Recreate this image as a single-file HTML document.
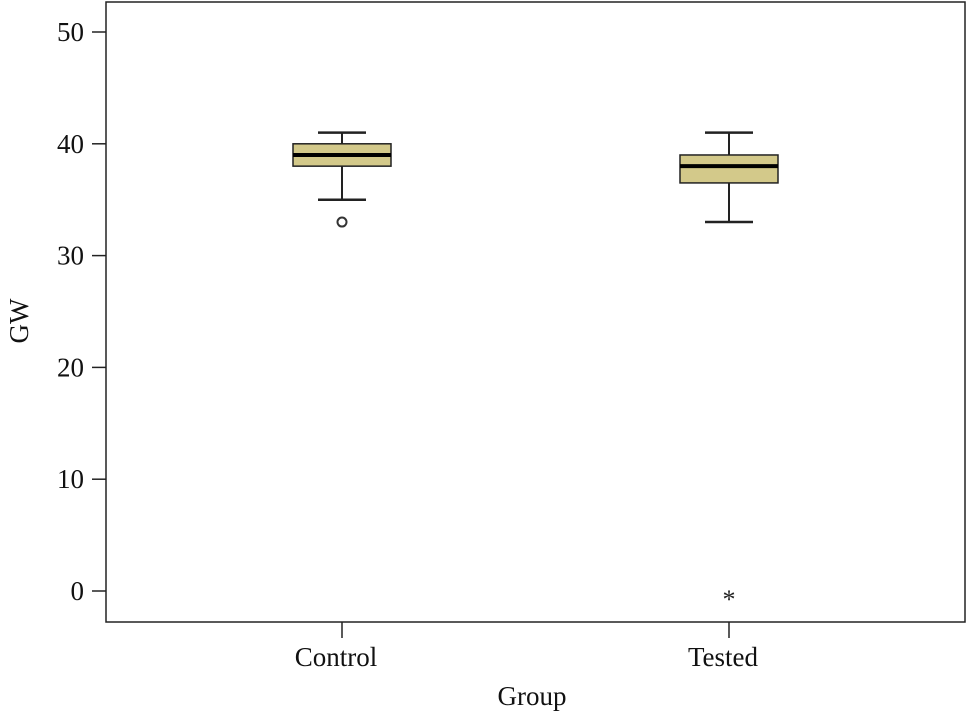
<!DOCTYPE html>
<html><head><meta charset="utf-8"><style>
body{margin:0;background:#fff;}
svg{display:block;font-family:"Liberation Serif",serif;}
</style></head><body>
<svg id="chart" width="968" height="714"></svg>
<script>
const categories=["Control","Tested"];
const mins=[35,33];
const q1s=[38,36.5];
const medians=[39,38];
const q3s=[40,39];
const maxs=[41,41];
const outliers=[[33],[]];
const extremes=[[],[0]];
const yTicks=[0,10,20,30,40,50];
const NS="http://www.w3.org/2000/svg";
const svg=document.getElementById('chart');
const L=106,R=965,T=2,B=622;
function y(v){return 591-v*11.18;}
function x(i){return [342,729][i];}
function add(tag,attrs,parent){const e=document.createElementNS(NS,tag);for(const k in attrs)e.setAttribute(k,attrs[k]);(parent||svg).appendChild(e);return e;}
const frame=add('rect',{x:L,y:T,width:R-L,height:B-T,fill:'none',stroke:'#222','stroke-width':1.5});


yTicks.forEach(v=>{
 const t=add('line',{x1:L-14,x2:L,y1:y(v),y2:y(v),stroke:'#222','stroke-width':1.5});
 
 
 const tx=add('text',{x:L-22,y:y(v)+9,'text-anchor':'end','font-size':27,fill:'#111'});
 tx.textContent=v;
 
 
});
categories.forEach((c,i)=>{
 const cx=x(i),hw=49,cw=24;
 const g=add('g',{});
 
 
 add('line',{x1:cx,x2:cx,y1:y(maxs[i]),y2:y(q3s[i]),stroke:'#222','stroke-width':2},g);
 add('line',{x1:cx,x2:cx,y1:y(q1s[i]),y2:y(mins[i]),stroke:'#222','stroke-width':2},g);
 add('line',{x1:cx-cw,x2:cx+cw,y1:y(maxs[i]),y2:y(maxs[i]),stroke:'#222','stroke-width':2.5},g);
 add('line',{x1:cx-cw,x2:cx+cw,y1:y(mins[i]),y2:y(mins[i]),stroke:'#222','stroke-width':2.5},g);
 add('rect',{x:cx-hw,y:y(q3s[i]),width:2*hw,height:y(q1s[i])-y(q3s[i]),fill:'#d3c98a',stroke:'#222','stroke-width':1.5},g);
 add('line',{x1:cx-hw,x2:cx+hw,y1:y(medians[i]),y2:y(medians[i]),stroke:'#000','stroke-width':4},g);
 outliers[i].forEach(v=>{
  const o=add('circle',{cx:cx,cy:y(v),r:4.5,fill:'none',stroke:'#333','stroke-width':2});
  
  
 });
 extremes[i].forEach(v=>{
  const e=add('text',{x:cx,y:y(v)+17,'text-anchor':'middle','font-size':26,fill:'#222'});
  e.textContent='*';
  
  
 });
 const t=add('line',{x1:cx,x2:cx,y1:B,y2:B+16,stroke:'#222','stroke-width':1.5});
 
 
 const lb=add('text',{x:cx-6,y:666,'text-anchor':'middle','font-size':27,fill:'#111'});
 lb.textContent=c;
 
 
});
const xt=add('text',{x:532,y:705,'text-anchor':'middle','font-size':27,fill:'#111'});
xt.textContent='Group';


const yt=add('text',{x:0,y:0,'text-anchor':'middle','font-size':27,fill:'#111',transform:'translate(28,321) rotate(-90)'});
yt.textContent='GW';


</script>
</body></html>
